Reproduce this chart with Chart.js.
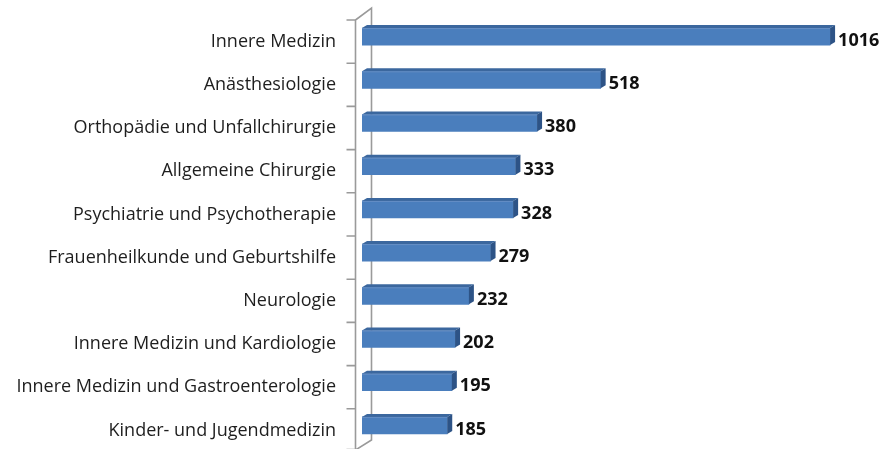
<!DOCTYPE html>
<html>
<head>
<meta charset="utf-8">
<script src="https://cdn.jsdelivr.net/npm/chart.js@4.4.1/dist/chart.umd.min.js"></script>
<style>
  html, body { margin: 0; padding: 0; background: #ffffff; }
  #wrap { width: 886px; height: 449px; position: relative; }
</style>
</head>
<body>
<div id="wrap"><canvas id="c" width="886" height="449"></canvas></div>
<script>
const categories = [
  "Innere Medizin",
  "Anästhesiologie",
  "Orthopädie und Unfallchirurgie",
  "Allgemeine Chirurgie",
  "Psychiatrie und Psychotherapie",
  "Frauenheilkunde und Geburtshilfe",
  "Neurologie",
  "Innere Medizin und Kardiologie",
  "Innere Medizin und Gastroenterologie",
  "Kinder- und Jugendmedizin"
];
const values = [1016, 518, 380, 333, 328, 279, 232, 202, 195, 185];

const FONT = "'Open Sans', 'Noto Sans', sans-serif";
const DX = 5, DY = 3;

const wallPlugin = {
  id: 'wall',
  beforeDatasetsDraw(chart) {
    const ctx = chart.ctx;
    const a = chart.chartArea;
    const band = (a.bottom - a.top) / categories.length;
    const fx = a.left - 6.5;   // front axis line
    const bx = a.left + 9.5;   // back wall line
    const topF = a.top + 5, botF = a.bottom + 3;
    ctx.save();
    ctx.strokeStyle = '#9a9a9a';
    ctx.lineWidth = 1.6;
    ctx.beginPath();
    ctx.moveTo(fx, topF); ctx.lineTo(fx, botF);
    ctx.moveTo(fx, topF); ctx.lineTo(bx, a.top - 7);
    ctx.lineTo(bx, a.bottom - 7);
    ctx.lineTo(fx, botF);
    for (let i = 0; i <= categories.length; i++) {
      const y = Math.min(topF + i * band, botF - 0.5);
      ctx.moveTo(fx - 9, y); ctx.lineTo(fx, y);
    }
    ctx.stroke();
    ctx.restore();
  },
  afterDatasetsDraw(chart) {
    const ctx = chart.ctx;
    const meta = chart.getDatasetMeta(0);
    ctx.save();
    meta.data.forEach((bar, i) => {
      const x0 = bar.base, x1 = bar.x;
      const h = bar.height;
      const yt = bar.y - h / 2, yb = bar.y + h / 2;
      // top face
      ctx.fillStyle = '#3b679e';
      ctx.beginPath();
      ctx.moveTo(x0, yt); ctx.lineTo(x1, yt);
      ctx.lineTo(x1 + DX, yt - DY); ctx.lineTo(x0 + DX, yt - DY);
      ctx.closePath(); ctx.fill();
      // side face
      ctx.fillStyle = '#2d5386';
      ctx.beginPath();
      ctx.moveTo(x1, yt); ctx.lineTo(x1 + DX, yt - DY);
      ctx.lineTo(x1 + DX, yb - DY); ctx.lineTo(x1, yb);
      ctx.closePath(); ctx.fill();
      // edge highlight
      ctx.strokeStyle = '#6d93c6';
      ctx.lineWidth = 0.8;
      ctx.beginPath();
      ctx.moveTo(x0, yt + 0.5); ctx.lineTo(x1, yt + 0.5);
      ctx.stroke();
      // value label
      ctx.fillStyle = '#111111';
      ctx.font = "bold 18px " + FONT;
      ctx.textAlign = 'left';
      ctx.textBaseline = 'middle';
      ctx.fillText(String(values[i]), x1 + DX + 3, bar.y + 4);
    });
    ctx.restore();
  }
};

new Chart(document.getElementById('c'), {
  type: 'bar',
  data: {
    labels: categories,
    datasets: [{
      data: values,
      backgroundColor: '#4a7ebd',
      borderWidth: 0,
      barThickness: 17
    }]
  },
  options: {
    indexAxis: 'y',
    responsive: false,
    animation: false,
    layout: { padding: { left: 0, right: 8, top: 15, bottom: 2 } },
    plugins: { legend: { display: false }, tooltip: { enabled: false } },
    scales: {
      x: { display: false, min: 0, max: 1120 },
      y: {
        grid: { display: false, drawTicks: false },
        border: { display: false },
        ticks: {
          color: '#1e1e1e',
          padding: 26,
          labelOffset: 5,
          font: { family: FONT, size: 18 }
        },
        afterFit(axis) {
          axis.width = 362;
          axis.paddingTop = 0;
          axis.paddingBottom = 0;
        }
      }
    }
  },
  plugins: [wallPlugin]
});
</script>
</body>
</html>
